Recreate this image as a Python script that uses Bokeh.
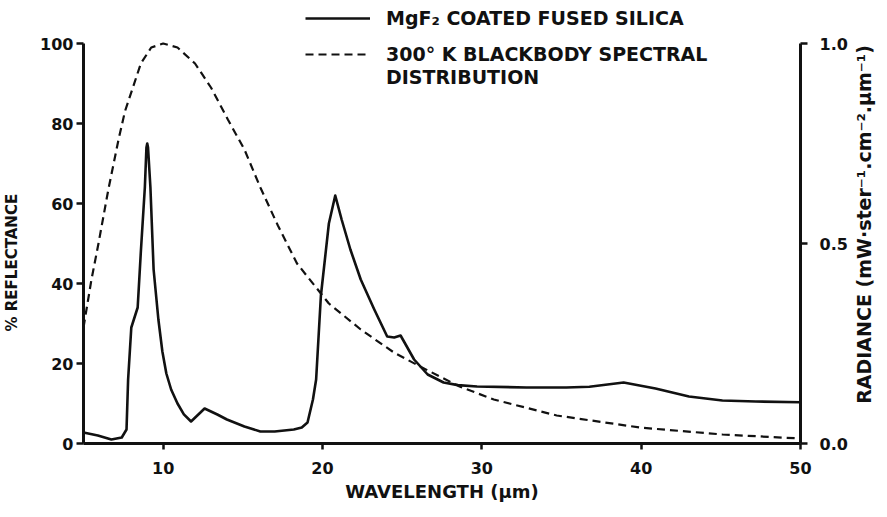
import math
from bokeh.plotting import figure
from bokeh.models import (ColumnDataSource, Range1d, LinearAxis, FixedTicker,
                          NumeralTickFormatter, Legend, LegendItem)
from bokeh.embed import file_html
from bokeh.resources import INLINE

# ---- data ----
refl_wavelength = [5.0, 5.9, 6.75, 7.4, 7.7, 7.8, 8.0, 8.4, 8.6, 8.85, 8.95, 9.0, 9.05,
                   9.2, 9.4, 9.7, 9.95, 10.2, 10.5, 10.9, 11.3, 11.75, 12.6, 13.4, 14.0,
                   15.1, 16.1, 17.0, 18.2, 18.7, 19.06, 19.4, 19.6, 19.9, 20.4, 20.8,
                   21.2, 21.75, 22.4, 23.25, 24.06, 24.5, 24.9, 25.75, 26.6, 27.6, 28.5,
                   29.7, 32.8, 35.3, 36.75, 38.9, 40.9, 43.0, 45.1, 47.2, 50.0]
refl_percent = [2.75, 2.0, 1.0, 1.5, 3.5, 16, 29, 34, 48, 64, 74, 75, 74,
                64, 43.5, 31, 23, 17.5, 13.5, 10, 7.3, 5.5, 8.75, 7.25, 6.0,
                4.25, 3.0, 3.0, 3.5, 4.0, 5.25, 11, 16, 37, 55, 62,
                56, 48.5, 41, 33.5, 26.75, 26.5, 27, 21, 17.25, 15.25, 14.6,
                14.25, 14, 14, 14.2, 15.25, 13.75, 11.75, 10.75, 10.5, 10.3]

bb_wavelength = [5.0, 5.5, 5.94, 6.56, 7.2, 7.6, 8.6, 9.25, 10.0, 10.9, 12.0, 13.0,
                 14.06, 15.1, 16.1, 17.2, 18.4, 19.9, 20.4, 22.4, 24.5, 26.1, 28.6,
                 30.75, 34.7, 39.9, 45.1, 50.0]
bb_radiance = [0.29, 0.41, 0.50, 0.635, 0.76, 0.83, 0.95, 0.99, 1.0, 0.99, 0.95, 0.89,
               0.81, 0.735, 0.64, 0.545, 0.45, 0.375, 0.35, 0.285, 0.227, 0.193, 0.1425,
               0.11, 0.07, 0.04, 0.0225, 0.0125]

x_ticks = [10, 20, 30, 40, 50]
left_ticks = [0, 20, 40, 60, 80, 100]
right_ticks = [0.0, 0.5, 1.0]

legend_labels = ["MgF\u2082 COATED FUSED SILICA",
                 "300\u00b0 K BLACKBODY SPECTRAL",
                 "DISTRIBUTION"]
left_title = "% REFLECTANCE"
right_title = "RADIANCE (mW\u00b7ster\u207b\u00b9.cm\u207b\u00b2.\u00b5m\u207b\u00b9)"

FONT = "DejaVu Sans"
INK = "#111111"
NBSP = "\u00a0"

# the frame reaches above the 100 % line so the key can sit over the data area;
# the axes themselves are bounded to 0-100 % and 0-1.0
p = figure(frame_width=717, frame_height=440, output_backend="svg",
           toolbar_location=None,
           x_range=Range1d(5, 50), y_range=Range1d(0, 110),
           min_border_left=77, min_border_right=10, min_border_top=3,
           min_border_bottom=60)
p.extra_y_ranges = {"rad": Range1d(0, 1.1)}
p.outline_line_color = None
p.xgrid.visible = False
p.ygrid.visible = False
p.background_fill_color = "white"
p.border_fill_color = "white"

refl_src = ColumnDataSource(dict(x=refl_wavelength, y=refl_percent))
bb_src = ColumnDataSource(dict(x=bb_wavelength, y=bb_radiance))

r_refl = p.line("x", "y", source=refl_src, line_color=INK, line_width=2.6,
                line_join="round")
r_bb = p.line("x", "y", source=bb_src, y_range_name="rad", line_color=INK,
              line_width=2.2, line_dash="8 5")
r_blank = p.line(x=[], y=[], line_alpha=0)

def style_axis(ax, label_size):
    ax.axis_line_color = INK
    ax.axis_line_width = 3
    ax.major_tick_line_color = INK
    ax.major_tick_line_width = 2.5
    ax.major_tick_in = 0
    ax.major_tick_out = 7
    ax.minor_tick_line_color = None
    ax.major_label_text_font = FONT
    ax.major_label_text_font_style = "bold"
    ax.major_label_text_font_size = "16px"
    ax.major_label_text_color = INK
    ax.axis_label_text_font = FONT
    ax.axis_label_text_font_style = "bold"
    ax.axis_label_text_font_size = label_size
    ax.axis_label_text_color = INK

xa = p.xaxis[0]
xa.ticker = FixedTicker(ticks=x_ticks)
xa.axis_label = "WAVELENGTH (\u00b5m)"
style_axis(xa, "18px")
xa.major_tick_out = 6
xa.major_label_standoff = 12
xa.axis_label_standoff = 4

ya = p.yaxis[0]
ya.ticker = FixedTicker(ticks=left_ticks)
ya.bounds = (0, 100)
ya.axis_label = left_title + NBSP * 15
style_axis(ya, "15px")
ya.major_label_standoff = 3
ya.axis_label_standoff = 16

# right axis; its title reads bottom-to-top like the reference
ra = LinearAxis(y_range_name="rad", ticker=FixedTicker(ticks=right_ticks),
                formatter=NumeralTickFormatter(format="0.0"), bounds=(0, 1.0),
                axis_label=NBSP * 6 + right_title)
style_axis(ra, "19px")
ra.major_label_standoff = 12
ra.axis_label_standoff = 13
ra.axis_label_orientation = math.pi / 2
try:
    ra.axis_label_align = "start"
except Exception:
    pass
p.add_layout(ra, "right")

def make_legend(items, loc, spacing):
    return Legend(items=items, location=loc, orientation="vertical",
                  padding=0, margin=0, spacing=spacing,
                  glyph_width=65, glyph_height=20, label_height=20,
                  label_standoff=16, label_text_font=FONT,
                  label_text_font_style="bold", label_text_font_size="19px",
                  label_text_color=INK, border_line_alpha=0,
                  background_fill_alpha=0)

leg_a = make_legend([LegendItem(label=legend_labels[0], renderers=[r_refl])],
                    (222, 414), 0)
leg_b = make_legend([LegendItem(label=legend_labels[1], renderers=[r_bb]),
                     LegendItem(label=legend_labels[2], renderers=[r_blank])],
                    (222, 355), 1)
p.add_layout(leg_a, "center")
p.add_layout(leg_b, "center")

open("out.html", "w").write(file_html(p, INLINE))
